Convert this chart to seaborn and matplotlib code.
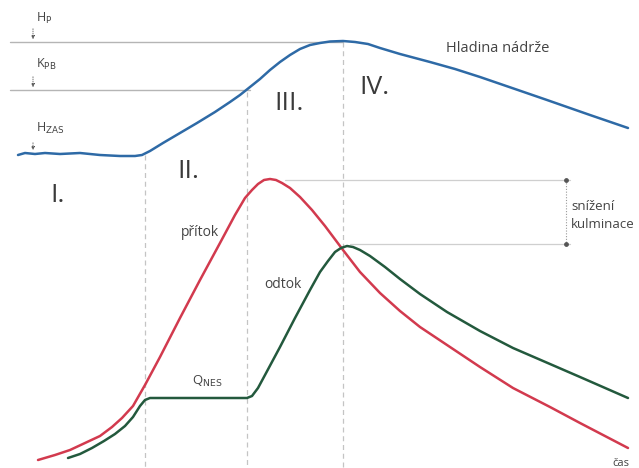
import numpy as np
import pandas as pd
import seaborn as sns
import matplotlib.pyplot as plt

# Curves (pixel-like units, y grows downward)
hladina_x = [18, 25, 35, 45, 60, 80, 100, 120, 135, 142, 150, 163, 180, 197, 215, 230, 240, 250,
             260, 270, 280, 290, 300, 310, 320, 330, 343, 355, 368, 380, 400, 430, 455, 480, 515,
             547, 590, 628]
hladina_y = [155, 153, 154, 153, 154, 153, 155, 156, 156, 155, 151, 143, 133, 123, 112, 102, 95, 87,
             79, 70, 62, 55, 49, 45, 43, 41.5, 41, 42, 44, 48, 54, 62, 69, 77, 89,
             100, 115, 128]

pritok_x = [38, 55, 70, 85, 100, 112, 122, 133, 145, 160, 180, 200, 220, 235, 245, 252, 258, 264,
            270, 276, 282, 290, 300, 312, 325, 343, 360, 380, 400, 420, 447, 480, 513, 550, 580, 628]
pritok_y = [460, 455, 450, 443, 436, 427, 418, 406, 385, 357, 318, 280, 243, 215, 198, 190, 184, 180,
            179, 180, 183, 188, 197, 210, 226, 250, 272, 293, 311, 327, 345, 367, 388, 407, 423, 448]

odtok_x = [68, 80, 92, 104, 115, 125, 133, 140, 145, 150, 247, 252, 258, 265, 280, 295, 310, 320,
           328, 335, 341, 347, 353, 360, 370, 385, 400, 420, 447, 480, 513, 550, 580, 628]
odtok_y = [458, 454, 448, 441, 434, 426, 417, 406, 400, 398, 398, 396, 388, 375, 347, 318, 290, 272,
           261, 252, 248, 246, 247, 250, 256, 267, 279, 294, 312, 331, 348, 364, 377, 398]

# phase boundaries and reference levels
phase_x = [145, 247, 343]
phase_top = [155, 92, 42]
level_y = [42, 90]
level_end = [343, 250]

phase_labels = ['I.', 'II.', 'III.', 'IV.']
phase_label_pos = [(50, 195), (177, 171), (274, 104), (359, 88)]

sns.set_theme(style='white')
plt.rcParams['font.family'] = ['Open Sans', 'DejaVu Sans']

fig = plt.figure(figsize=(6.39, 4.68), dpi=100)
ax = fig.add_axes([0, 0, 1, 1])

# reference levels
for y, xe in zip(level_y, level_end):
    ax.plot([10, xe], [y, y], color='#b5b5b5', lw=1.0, zorder=1)

# phase dividers
for x, yt in zip(phase_x, phase_top):
    ax.plot([x, x], [yt, 468], color='#c4c4c4', lw=0.9, ls=(0, (4, 3)), zorder=1)

curves = pd.concat([
    pd.DataFrame({'x': hladina_x, 'y': hladina_y, 'krivka': 'hladina'}),
    pd.DataFrame({'x': pritok_x, 'y': pritok_y, 'krivka': 'pritok'}),
    pd.DataFrame({'x': odtok_x, 'y': odtok_y, 'krivka': 'odtok'}),
])
sns.lineplot(data=curves, x='x', y='y', hue='krivka', sort=False, estimator=None,
             palette={'hladina': '#2e6aa6', 'pritok': '#d23a4e', 'odtok': '#23593d'},
             lw=1.8, legend=False, ax=ax, zorder=3)

# peak reduction dimension
ax.plot([285, 570], [180, 180], color='#cfcfcf', lw=0.9, zorder=1)
ax.plot([350, 570], [244, 244], color='#cfcfcf', lw=0.9, zorder=1)
ax.plot([566, 566], [180, 244], color='#9a9a9a', lw=0.8, ls=(0, (1, 1.5)), zorder=2)
ax.scatter([566, 566], [180, 244], s=6, color='#555555', zorder=3)
ax.text(571, 206, 'snížení', fontsize=9.5, color='#444444', va='center')
ax.text(571, 224, 'kulminace', fontsize=9.5, color='#444444', va='center')

# phase numerals
for lab, (x, y) in zip(phase_labels, phase_label_pos):
    ax.text(x, y, lab, fontsize=19, color='#3a3a3a', va='center', ha='left')

ax.text(446, 48, 'Hladina nádrže', fontsize=10.5, color='#444444', va='center')
ax.text(200, 233, 'přítok', fontsize=10, color='#444444', va='center', ha='center')
ax.text(283, 284, 'odtok', fontsize=10, color='#444444', va='center', ha='center')
ax.text(192, 381, r'Q$_{\mathrm{NES}}$', fontsize=9.5, color='#444444', va='center')
ax.text(612, 464, 'čas', fontsize=8, color='#444444', va='center')

# level markers
for lab, y0, y1, ty in [(r'H$_{\mathrm{P}}$', 26, 42, 18),
                        (r'K$_{\mathrm{PB}}$', 74, 90, 64),
                        (r'H$_{\mathrm{ZAS}}$', 140, 153, 128)]:
    ax.annotate('', xy=(33, y1), xytext=(33, y0),
                arrowprops=dict(arrowstyle='-|>', color='#555555', lw=0.6, ls=':',
                                mutation_scale=5))
    ax.text(36, ty, lab, fontsize=9, color='#444444', va='center')

ax.set_xlim(0, 639)
ax.set_ylim(468, 0)
ax.axis('off')

fig.savefig('out.png', dpi=100)
